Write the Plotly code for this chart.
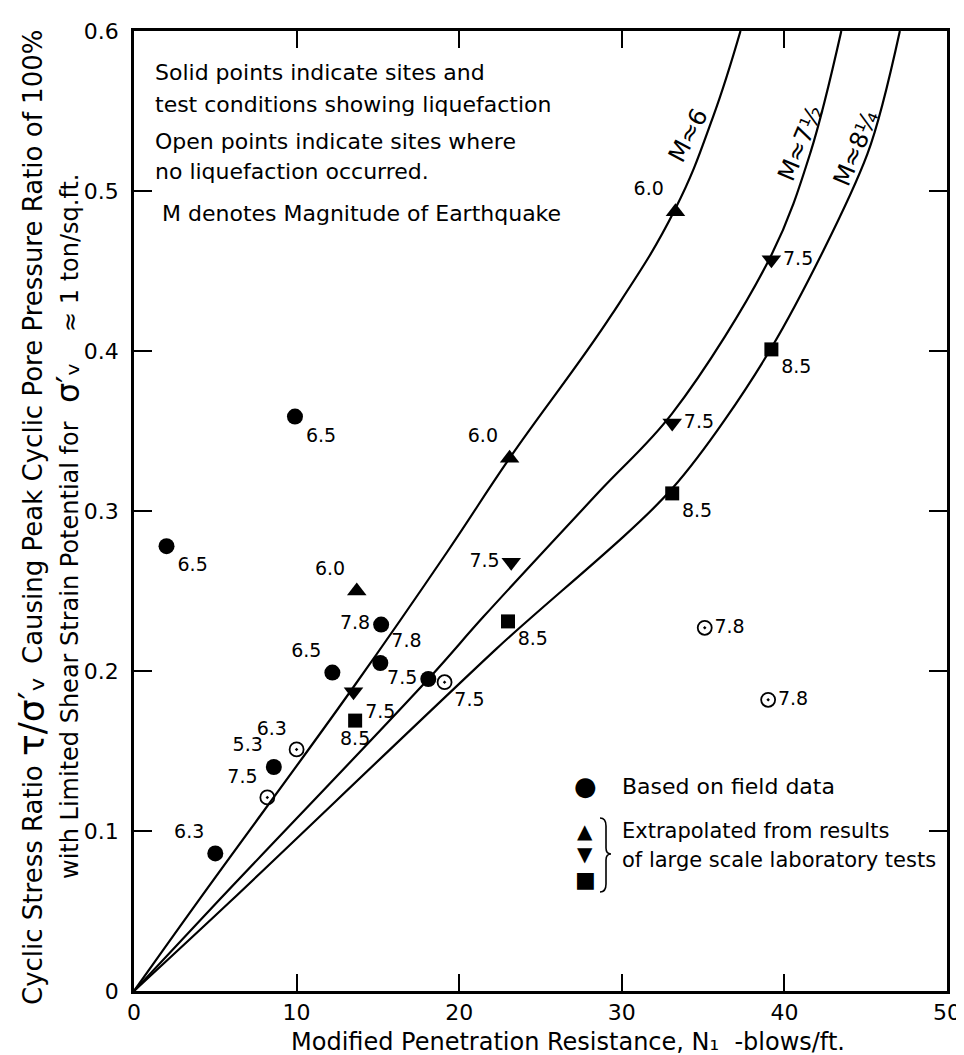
import plotly.graph_objects as go

# ---------------- data ----------------
# curves
m6_x = [0, 4.0, 13.5, 19.3, 23.1, 29.4, 33.3, 35.6, 37.3]
m6_y = [0, 0.057, 0.19, 0.275, 0.333, 0.423, 0.489, 0.546, 0.6]
m75_x = [0, 5.25, 18.1, 21.5, 28.6, 33.1, 39.2, 41.6, 43.5]
m75_y = [0, 0.057, 0.195, 0.234, 0.312, 0.361, 0.46, 0.524, 0.6]
m825_x = [0, 5.97, 22.3, 33.1, 39.2, 45.1, 47.1]
m825_y = [0, 0.0564, 0.214, 0.314, 0.402, 0.523, 0.6]

# field data, liquefaction (solid circles)
field_x = [9.9, 2.0, 15.2, 15.15, 12.2, 8.6, 5.0, 18.1]
field_y = [0.359, 0.278, 0.229, 0.205, 0.199, 0.140, 0.086, 0.195]
field_lbl = ["6.5", "6.5", "7.8", "7.8", "6.5", "5.3", "6.3", "7.5"]
field_pos = ["bottom right", "bottom right", "middle left", "top right",
             "top left", "top left", "top left", "middle left"]

# field data, no liquefaction (open circles)
open_x = [10.0, 8.2, 19.1, 35.1, 39.0]
open_y = [0.151, 0.121, 0.193, 0.227, 0.182]
open_lbl = ["6.3", "7.5", "7.5", "7.8", "7.8"]
open_pos = ["top left", "top left", "bottom right", "middle right", "middle right"]

# laboratory, M 6.0 (triangles up)
tri_x = [13.7, 23.1, 33.3]
tri_y = [0.25, 0.333, 0.487]
tri_lbl = ["6.0", "6.0", "6.0"]

# laboratory, M 7.5 (triangles down)
tdn_x = [13.5, 23.2, 33.1, 39.2]
tdn_y = [0.187, 0.268, 0.355, 0.457]
tdn_lbl = ["7.5", "7.5", "7.5", "7.5"]
tdn_pos = ["bottom right", "middle left", "middle right", "middle right"]

# laboratory, M 8.5 (squares)
sq_x = [13.6, 23.0, 33.1, 39.2]
sq_y = [0.169, 0.231, 0.311, 0.401]
sq_lbl = ["8.5", "8.5", "8.5", "8.5"]
sq_pos = ["bottom center", "bottom right", "bottom right", "bottom right"]

x_ticks = [0, 10, 20, 30, 40, 50]
y_ticks = [0, 0.1, 0.2, 0.3, 0.4, 0.5, 0.6]
y_ticktext = ["0", "0.1", "0.2", "0.3", "0.4", "0.5", "0.6"]

# ---------------- layout geometry ----------------
W_FIG, H_FIG = 964, 1055
L, R, T, B = 126, 939, 23, 983
PW, PH = R - L, B - T


def pxx(x):
    return (x - L) / PW


def pxy(y):
    return (B - y) / PH


FONT = "DejaVu Sans"
BLACK = "#000000"

fig = go.Figure()

for cx, cy, sm in [(m6_x, m6_y, 1.2), (m75_x, m75_y, 1.0), (m825_x, m825_y, 0.8)]:
    fig.add_trace(go.Scatter(x=cx, y=cy, mode="lines",
                             line=dict(color=BLACK, width=2.2, shape="spline", smoothing=sm),
                             hoverinfo="skip", showlegend=False))

lblfont = dict(family=FONT, size=19, color=BLACK)

fig.add_trace(go.Scatter(x=field_x, y=field_y, mode="markers+text", text=field_lbl,
                         textposition=field_pos, textfont=lblfont,
                         marker=dict(symbol="circle", size=16, color=BLACK),
                         showlegend=False))
fig.add_trace(go.Scatter(x=open_x, y=open_y, mode="markers+text", text=open_lbl,
                         textposition=open_pos, textfont=lblfont,
                         marker=dict(symbol="circle-open-dot", size=14, color=BLACK,
                                     line=dict(width=1.8, color=BLACK)),
                         showlegend=False))
fig.add_trace(go.Scatter(x=tri_x, y=tri_y, mode="markers+text", text=tri_lbl,
                         textposition="top left", textfont=lblfont,
                         marker=dict(symbol="triangle-up", size=17, color=BLACK),
                         showlegend=False))
fig.add_trace(go.Scatter(x=tdn_x, y=tdn_y, mode="markers+text", text=tdn_lbl,
                         textposition=tdn_pos, textfont=lblfont,
                         marker=dict(symbol="triangle-down", size=17, color=BLACK),
                         showlegend=False))
fig.add_trace(go.Scatter(x=sq_x, y=sq_y, mode="markers+text", text=sq_lbl,
                         textposition=sq_pos, textfont=lblfont,
                         marker=dict(symbol="square", size=14, color=BLACK),
                         showlegend=False))

annotations = []


def note(txt, x0, y0, size, xanchor="left", yanchor="middle", angle=0):
    annotations.append(dict(x=pxx(x0), y=pxy(y0), xref="paper", yref="paper", text=txt,
                            showarrow=False, xanchor=xanchor, yanchor=yanchor,
                            textangle=angle,
                            font=dict(family=FONT, size=size, color=BLACK)))


# curve labels
for txt, ax_, ay_, ang in [("M≈6", 34.1, 0.535, -62),
                           ("M≈7½", 41.0, 0.530, -67),
                           ("M≈8¼", 44.4, 0.527, -67)]:
    annotations.append(dict(x=ax_, y=ay_, xref="x", yref="y", text=txt, showarrow=False,
                            textangle=ang, font=dict(family=FONT, size=24, color=BLACK)))

# top-left explanation block
for txt, x0, y0 in [("Solid points indicate sites and", 145, 64),
                    ("test conditions showing liquefaction", 145, 96),
                    ("Open points indicate sites where", 145, 134),
                    ("no liquefaction occurred.", 145, 163),
                    ("M denotes Magnitude of Earthquake", 152, 205)]:
    note(txt, x0, y0, 22)

# legend block
for sym, y0, sz in [("●", 778, 26), ("▲", 823, 20), ("▼", 846, 20), ("■", 871, 22)]:
    note(sym, 577, y0, sz, xanchor="center")
note("Based on field data", 612, 778, 22)
note("Extrapolated from results", 612, 823, 21)
note("of large scale laboratory tests", 612, 852, 21)

# x axis title
note("Modified Penetration Resistance, N₁  -blows/ft.", 560, 1034, 24, xanchor="center")

# y axis title, first line (three parts)
note("Cyclic Stress Ratio", 25, 999, 26, xanchor="center", yanchor="bottom", angle=-90)
note("τ/σ′ᵥ", 23, 708, 36, xanchor="center", yanchor="middle", angle=-90)
note("Causing Peak Cyclic Pore Pressure Ratio of 100%", 25, 20, 26,
     xanchor="center", yanchor="top", angle=-90)
# second line (three parts)
note("with Limited Shear Strain Potential for", 62, 873, 24, xanchor="center",
     yanchor="bottom", angle=-90)
note("σ′ᵥ", 60, 375, 32, xanchor="center", yanchor="middle", angle=-90)
note("≈ 1 ton/sq.ft.", 62, 164, 24, xanchor="center", yanchor="top", angle=-90)

# brace of the legend
bx = 592
brace = (f"M {pxx(bx)},{pxy(810)} Q {pxx(bx+6)},{pxy(810)} {pxx(bx+6)},{pxy(818)} "
         f"L {pxx(bx+6)},{pxy(840)} Q {pxx(bx+6)},{pxy(846)} {pxx(bx+11)},{pxy(846)} "
         f"Q {pxx(bx+6)},{pxy(846)} {pxx(bx+6)},{pxy(852)} "
         f"L {pxx(bx+6)},{pxy(876)} Q {pxx(bx+6)},{pxy(884)} {pxx(bx)},{pxy(884)}")
shapes = [dict(type="path", path=brace, xref="paper", yref="paper",
               line=dict(color=BLACK, width=1.6))]

axis_common = dict(showgrid=False, zeroline=False, showline=True, linecolor=BLACK,
                   linewidth=2.5, ticks="inside", tickcolor=BLACK, tickwidth=2,
                   mirror="ticks", tickfont=dict(family=FONT, size=22, color=BLACK))

fig.update_layout(
    width=W_FIG, height=H_FIG,
    margin=dict(l=L, r=W_FIG - R, t=T, b=H_FIG - B),
    paper_bgcolor="white", plot_bgcolor="white",
    xaxis=dict(range=[0, 50], tickvals=x_ticks, ticklen=17, **axis_common),
    yaxis=dict(range=[0, 0.6], tickvals=y_ticks, ticktext=y_ticktext, ticklen=18,
               ticklabelstandoff=8, **axis_common),
    annotations=annotations, shapes=shapes,
    showlegend=False,
)

fig.write_html("out.html")
